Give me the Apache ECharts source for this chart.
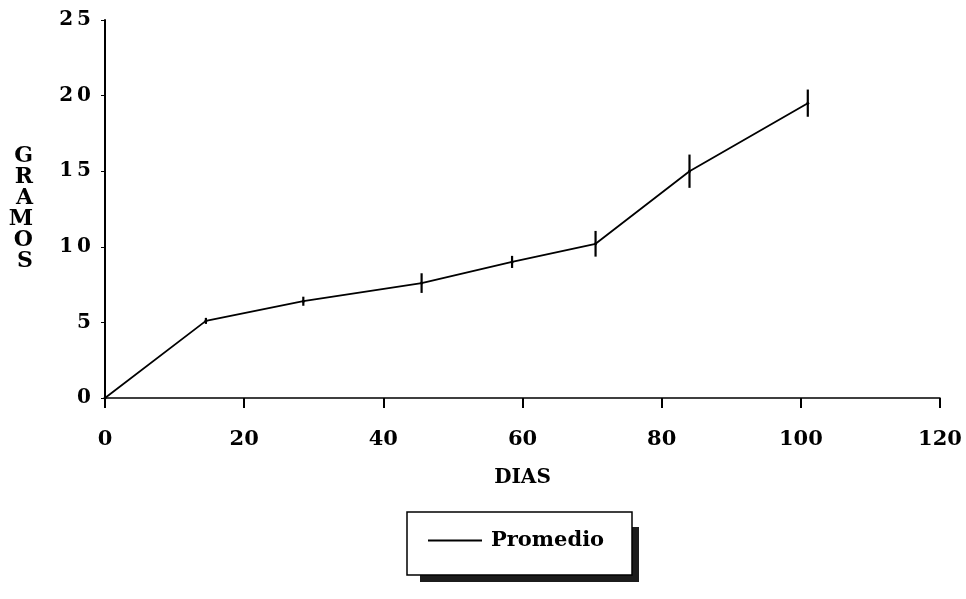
<!DOCTYPE html>
<html>
<head>
<meta charset="utf-8">
<script src="https://cdn.jsdelivr.net/npm/echarts@6/dist/echarts.min.js"></script>
<style>
  html, body { margin: 0; padding: 0; background: #fff; }
  #chart { width: 966px; height: 599px; }
</style>
</head>
<body>
<div id="chart"></div>
<script>
// Growth over time: mean weight (g) by day, with spread bars
const dias = [0, 14.5, 28.5, 45.5, 58.5, 70.5, 84, 101];
const gramos = [0, 5.1, 6.4, 7.6, 9.0, 10.2, 15.0, 19.5];
const desviacion = [0, 0.2, 0.3, 0.65, 0.4, 0.85, 1.1, 0.9];
const xTicks = [0, 20, 40, 60, 80, 100, 120];
const yTicks = [0, 5, 10, 15, 20, 25];

const FONT = '"DejaVu Serif", "Liberation Serif", serif';

const lineData = dias.map((d, i) => [d, gramos[i]]);
const barData = dias.map((d, i) => [d, gramos[i] - desviacion[i], gramos[i] + desviacion[i]]);

const chart = echarts.init(document.getElementById('chart'));
chart.setOption({
  backgroundColor: '#fff',
  animation: false,
  grid: { left: 105, right: 26, top: 20, bottom: 201, outerBoundsMode: 'none', containLabel: false },
  xAxis: {
    type: 'value',
    min: xTicks[0], max: xTicks[xTicks.length - 1], interval: 20,
    name: 'DIAS',
    nameLocation: 'middle',
    nameGap: 70,
    nameTextStyle: { fontFamily: FONT, fontWeight: 'bold', fontSize: 20, color: '#000' },
    axisLine: { show: true, onZero: false, lineStyle: { color: '#000', width: 1.5 } },
    axisTick: { show: true, inside: false, length: 10, lineStyle: { color: '#000', width: 2 } },
    axisLabel: { margin: 31, fontFamily: FONT, fontWeight: 'bold', fontSize: 21, color: '#000' },
    splitLine: { show: false }
  },
  yAxis: {
    type: 'value',
    min: yTicks[0], max: yTicks[yTicks.length - 1], interval: 5,
    name: 'G\nR\nA\nM\nO\nS',
    nameLocation: 'middle',
    nameRotate: 0,
    nameGap: 72,
    nameTextStyle: { fontFamily: FONT, fontWeight: 'bold', fontSize: 22, color: '#000', lineHeight: 21 },
    axisLine: { show: true, lineStyle: { color: '#000', width: 2 } },
    axisTick: { show: true, inside: false, length: 4, lineStyle: { color: '#000', width: 1 } },
    axisLabel: {
      margin: 14, fontFamily: FONT, fontWeight: 'bold', fontSize: 20, color: '#000',
      formatter: v => String(v).split('').join('\u2009')
    },
    splitLine: { show: false }
  },
  graphic: [
    // legend frame with its offset drop shadow
    { type: 'rect', z: 0, shape: { x: 632, y: 527, width: 7, height: 55 }, style: { fill: '#1c1c1c' } },
    { type: 'rect', z: 0, shape: { x: 420, y: 575, width: 219, height: 7 }, style: { fill: '#1c1c1c' } },
    { type: 'rect', z: 0, shape: { x: 407, y: 512, width: 225, height: 63 }, style: { fill: '#fff', stroke: '#000', lineWidth: 1.5 } }
  ],
  legend: {
    show: true,
    left: 428, top: 530,
    padding: 0,
    itemWidth: 54,
    itemHeight: 2,
    itemGap: 10,
    icon: 'rect',
    z: 10,
    textStyle: { fontFamily: FONT, fontWeight: 'bold', fontSize: 21, color: '#000', padding: [0, 0, 0, 4] },
    data: ['Promedio']
  },
  series: [
    {
      name: 'Promedio',
      type: 'line',
      data: lineData,
      lineStyle: { color: '#000', width: 1.8 },
      itemStyle: { color: '#000' },
      symbol: 'circle',
      symbolSize: 3,
      z: 3
    },
    {
      name: 'error',
      type: 'custom',
      data: barData,
      renderItem: (params, api) => {
        const lo = api.coord([api.value(0), api.value(1)]);
        const hi = api.coord([api.value(0), api.value(2)]);
        return {
          type: 'line',
          shape: { x1: lo[0], y1: lo[1], x2: hi[0], y2: hi[1] },
          style: { stroke: '#000', lineWidth: 2.2 }
        };
      },
      z: 4
    }
  ]
});
</script>
</body>
</html>
